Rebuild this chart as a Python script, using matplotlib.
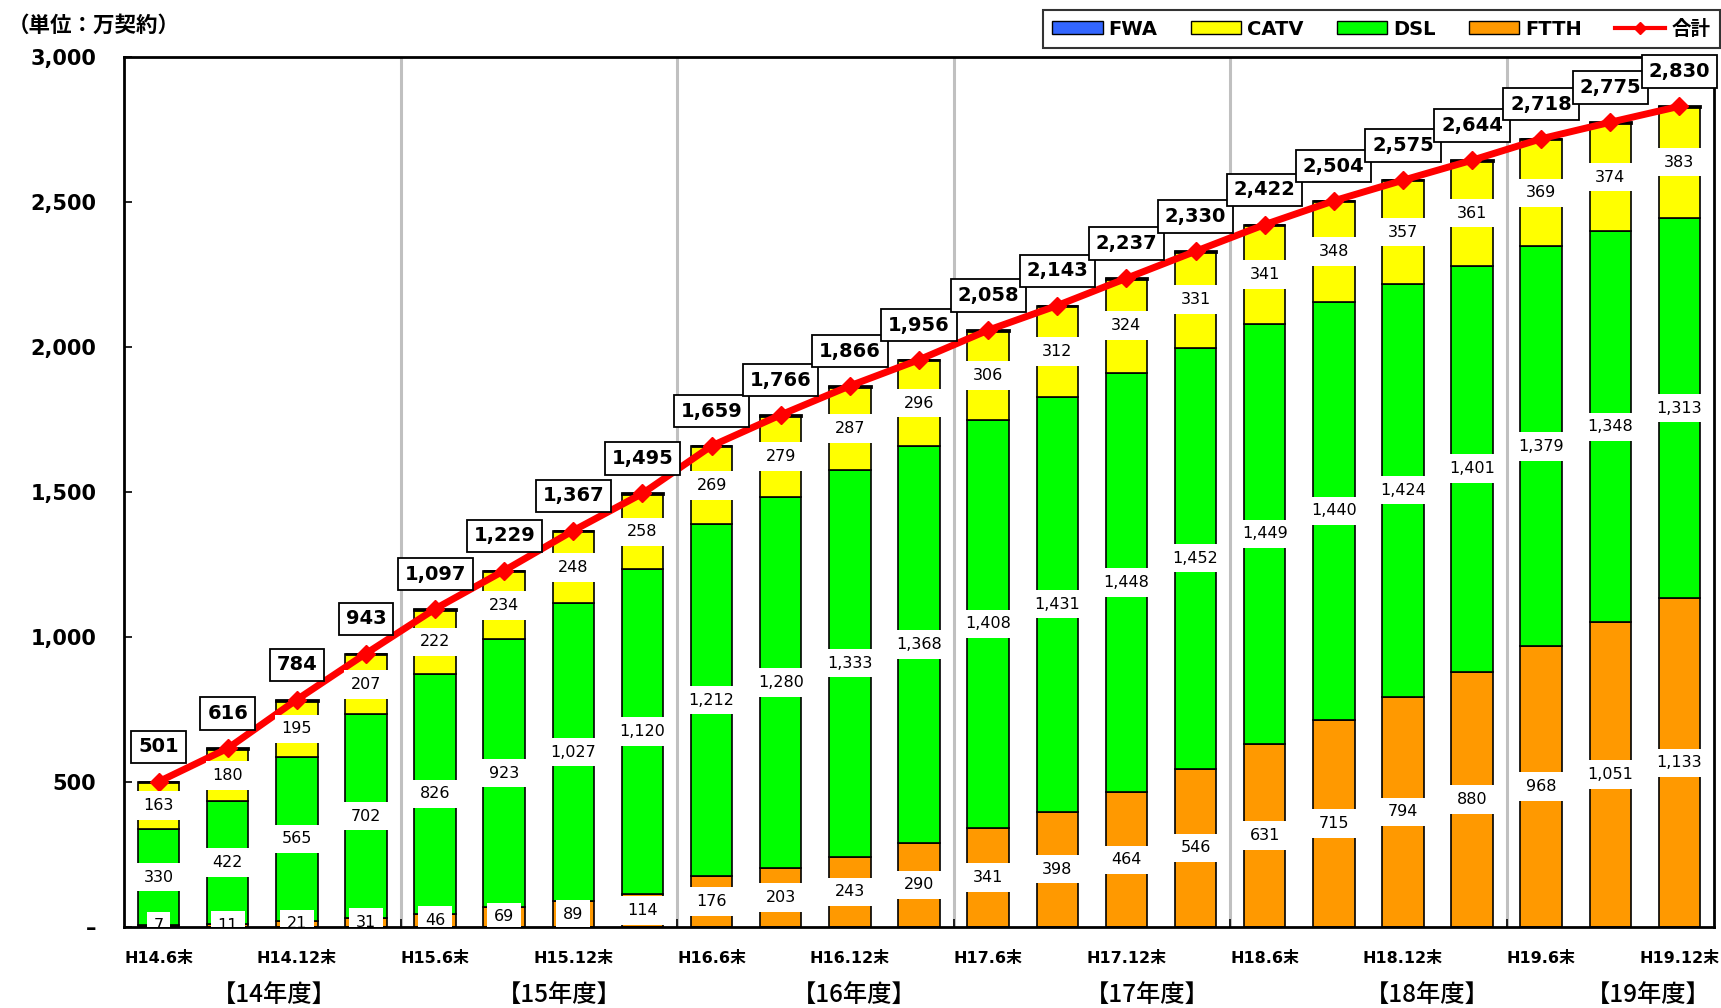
import matplotlib
matplotlib.use('Agg')
import matplotlib.pyplot as plt
import numpy as np
from matplotlib.patches import Patch
from matplotlib.lines import Line2D
from matplotlib.ticker import FuncFormatter, FixedLocator

# ---------------- data ----------------
periods = ['H14.6末', 'H14.9末', 'H14.12末', 'H15.3末',
           'H15.6末', 'H15.9末', 'H15.12末', 'H16.3末',
           'H16.6末', 'H16.9末', 'H16.12末', 'H17.3末',
           'H17.6末', 'H17.9末', 'H17.12末', 'H18.3末',
           'H18.6末', 'H18.9末', 'H18.12末', 'H19.3末',
           'H19.6末', 'H19.9末', 'H19.12末']
ftth = [7, 11, 21, 31, 46, 69, 89, 114, 176, 203, 243, 290, 341, 398, 464, 546,
        631, 715, 794, 880, 968, 1051, 1133]
dsl = [330, 422, 565, 702, 826, 923, 1027, 1120, 1212, 1280, 1333, 1368, 1408,
       1431, 1448, 1452, 1449, 1440, 1424, 1401, 1379, 1348, 1313]
catv = [163, 180, 195, 207, 222, 234, 248, 258, 269, 279, 287, 296, 306, 312,
        324, 331, 341, 348, 357, 361, 369, 374, 383]
fwa = [1, 3, 3, 3, 3, 3, 3, 3, 2, 4, 3, 2, 3, 2, 1, 1, 1, 1, 0, 2, 2, 2, 1]
total = [501, 616, 784, 943, 1097, 1229, 1367, 1495, 1659, 1766, 1866, 1956,
         2058, 2143, 2237, 2330, 2422, 2504, 2575, 2644, 2718, 2775, 2830]
fiscal_labels = ['【14年度】', '【15年度】', '【16年度】', '【17年度】', '【18年度】', '【19年度】']
series_names = ['FWA', 'CATV', 'DSL', 'FTTH', '合計']

# ---------------- style ----------------
C_FWA, C_CATV, C_DSL, C_FTTH, C_TOT = '#3366FF', '#FFFF00', '#00FF00', '#FF9900', '#FF0000'
CJK = ['Noto Sans CJK JP']
MIX = ['DejaVu Sans', 'Noto Sans CJK JP']

fig = plt.figure(figsize=(17.21, 10.08), dpi=100)
ax = fig.add_axes([124 / 1721, (1008 - 927) / 1008, (1714 - 124) / 1721, (927 - 57) / 1008])

x = np.arange(len(periods))
w = 0.6
ftth_a, dsl_a, catv_a, fwa_a = map(np.array, (ftth, dsl, catv, fwa))
ax.bar(x, ftth_a, w, color=C_FTTH, edgecolor='black', linewidth=1.2, zorder=2)
ax.bar(x, dsl_a, w, bottom=ftth_a, color=C_DSL, edgecolor='black', linewidth=1.2, zorder=2)
ax.bar(x, catv_a, w, bottom=ftth_a + dsl_a, color=C_CATV, edgecolor='black', linewidth=1.2, zorder=2)
ax.bar(x, fwa_a, w, bottom=ftth_a + dsl_a + catv_a, color=C_FWA, edgecolor='black',
       linewidth=2.0, zorder=2)

ax.plot(x, total, color=C_TOT, lw=5, marker='D', markersize=9, zorder=3)

# segment labels
for vals, bottoms in ((ftth_a, np.zeros_like(ftth_a)), (dsl_a, ftth_a), (catv_a, ftth_a + dsl_a)):
    for xi, v, b in zip(x, vals, bottoms):
        ax.text(xi, b + v / 2, f'{v:,}', ha='center', va='center', fontsize=11.5,
                family='DejaVu Sans', zorder=4, clip_on=True,
                bbox=dict(boxstyle='square,pad=0.42', fc='white', ec='none'))

# total labels
for xi, t in zip(x, total):
    ax.annotate(f'{t:,}', (xi, t), xytext=(0, 25), textcoords='offset points',
                ha='center', va='center', fontsize=14, fontweight='bold', zorder=5,
                bbox=dict(boxstyle='square,pad=0.35', fc='white', ec='black', lw=1.3))

# separators between fiscal years
for s in np.arange(3.5, len(periods) - 1, 4):
    ax.axvline(s, color='#C0C0C0', lw=2.2, zorder=1)

ax.set_xlim(-0.5, len(periods) - 0.5)
ax.set_ylim(0, 3000)
ax.set_yticks(np.arange(0, 3001, 500))
ax.yaxis.set_major_formatter(FuncFormatter(lambda v, p: '–' if v == 0 else f'{int(v):,}'))
ax.tick_params(axis='y', direction='in', length=6, width=1.2, pad=20, labelsize=15)
for lab in ax.get_yticklabels():
    lab.set_fontweight('bold')

ax.set_xticks(x[::2])
ax.set_xticklabels(periods[::2], family=MIX, fontweight='bold', fontsize=11.5)
ax.tick_params(axis='x', length=0, pad=17)
ax.xaxis.set_minor_locator(FixedLocator(np.arange(3.5, len(periods) - 1, 4)))
ax.tick_params(axis='x', which='minor', direction='in', length=6, width=1.2)

for sp in ax.spines.values():
    sp.set_linewidth(2)
    sp.set_color('black')

# fiscal-year labels
fy_pos = [1.67, 5.8, 10.06, 14.3, 18.35, 21.55]
for fx, lab in zip(fy_pos, fiscal_labels):
    ax.text(fx, -0.078, lab, transform=ax.get_xaxis_transform(), ha='center', va='center',
            fontsize=17.5, family=CJK, fontweight='medium')

# unit label
fig.text(8 / 1721, 1 - 25 / 1008, '（単位：万契約）', ha='left', va='center', fontsize=15.5,
         family=CJK, fontweight='bold')

# legend
handles = [Patch(fc=C_FWA, ec='black', lw=1), Patch(fc=C_CATV, ec='black', lw=1),
           Patch(fc=C_DSL, ec='black', lw=1), Patch(fc=C_FTTH, ec='black', lw=1),
           Line2D([], [], color=C_TOT, lw=3, marker='D', markersize=6)]
leg = fig.legend(handles, series_names, ncol=5, loc='upper right',
                 bbox_to_anchor=(1720 / 1721, 1 - 10 / 1008), frameon=True, fancybox=False,
                 edgecolor='black', borderaxespad=0, handlelength=2.6, handleheight=0.65,
                 handletextpad=0.3, columnspacing=1.7, borderpad=0.5,
                 prop={'family': MIX, 'size': 14, 'weight': 'bold'})
leg.get_frame().set_linewidth(1.5)

fig.savefig('out.png', dpi=100)
